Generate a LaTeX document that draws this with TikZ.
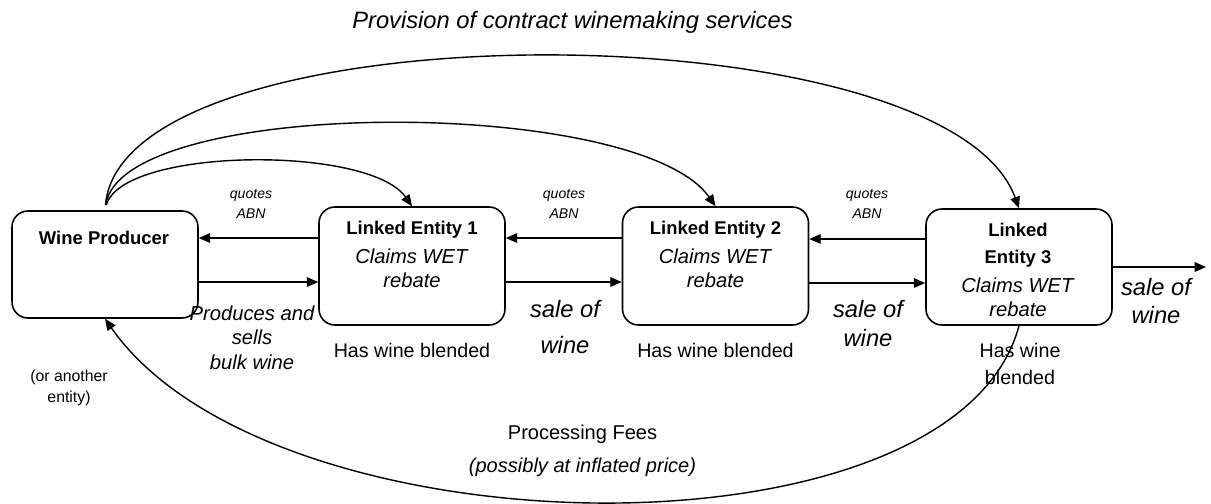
\documentclass[tikz,border=0pt]{standalone}
\usepackage{fontspec}
\setmainfont{Liberation Sans}
\usetikzlibrary{arrows.meta}

\newcommand{\fs}[2]{\fontsize{#1}{#2}\selectfont}

\begin{document}
\begin{tikzpicture}[
	box/.style={draw, line width=0.9pt, rounded corners=0.32cm, fill=white, minimum width=3.72cm, minimum height=2.36cm},
	flow/.style={line width=0.8pt, -{Triangle[length=6.5pt,width=5.5pt]}},
	txt/.style={align=center, inner sep=0pt}]
	\useasboundingbox (0,0) rectangle (24.22,10.06);
	% parties
	\node[box, minimum height=2.14cm] (WP) at (2.10,4.77) {};
	\node[box] (E1) at (8.24,4.74) {};
	\node[box] (E2) at (14.31,4.74) {};
	\node[box, minimum height=2.32cm] (E3) at (20.38,4.72) {};
	\node[txt, font=\fs{10.5}{12}\bfseries] (WPt) at (2.08,5.30) {Wine Producer};
	\node[txt, font=\fs{11.5}{13.7}] (E1t) at (8.24,4.97) {\textbf{\fs{10.5}{12}Linked Entity 1}\\[2.8pt]\textit{Claims WET}\\\textit{rebate}};
	\node[txt, font=\fs{11.5}{13.7}] (E2t) at (14.31,4.97) {\textbf{\fs{10.5}{12}Linked Entity 2}\\[2.8pt]\textit{Claims WET}\\\textit{rebate}};
	\node[txt, font=\fs{11.5}{13.7}] (E3t) at (20.36,4.66) {\textbf{\fs{10.5}{12}Linked}\\[1.7pt]\textbf{\fs{10.5}{12}Entity 3}\\[2.8pt]\textit{Claims WET}\\\textit{rebate}};
	% quotes ABN / sale of wine
	\foreach \a/\b in {WP/E1,E1/E2,E2/E3} {
		\draw[flow] ([yshift=0.56cm]\b.west) -- ([yshift=0.56cm]\b.west -| \a.east);
		\draw[flow] ([yshift=-0.32cm]\b.west -| \a.east) -- ([yshift=-0.32cm]\b.west);
	}
	\coordinate (buyer) at (24.12,4.72);
	\draw[flow] (E3) -- (buyer);
	\node[txt, font=\fs{8}{11.4}\itshape] (q1) at (5.02,5.98) {quotes\\ABN};
	\node[txt, font=\fs{8}{11.4}\itshape] (q2) at (11.28,5.98) {quotes\\ABN};
	\node[txt, font=\fs{8}{11.4}\itshape] (q3) at (17.34,5.98) {quotes\\ABN};
	\node[txt, font=\fs{11.5}{14}\itshape] (prod) at (5.04,3.31) {Produces and\\sells\\bulk wine};
	\node[txt, font=\fs{13.5}{20.5}\itshape] (s1) at (11.30,3.52) {sale of\\wine};
	\node[txt, font=\fs{13.5}{16.5}\itshape] (s2) at (17.36,3.59) {sale of\\wine};
	\node[txt, font=\fs{13.5}{16}\itshape] (s3) at (23.12,4.04) {sale of\\wine};
	\node[txt, font=\fs{11.2}{13}] (b1) at (8.24,3.06) {Has wine blended};
	\node[txt, font=\fs{11.2}{13}] (b2) at (14.31,3.06) {Has wine blended};
	\node[txt, font=\fs{11.2}{15.4}] (b3) at (20.40,2.79) {Has wine\\blended};
	\node[txt, font=\fs{9}{12}] (other) at (1.38,2.31) {(or another\\entity)};
	% contract winemaking
	\node[txt, font=\fs{13.5}{16}\itshape] (title) at (11.45,9.62) {Provision of contract winemaking services};
	\draw[flow, shorten <=3pt] (WP.north) .. controls +(75:1.3) and +(125:1.5) .. (E1.north);
	\draw[flow, shorten <=3pt] (WP.north) .. controls +(82:2.3) and +(125:2.7) .. (E2.north);
	\draw[flow, shorten <=3pt] (WP.north) .. controls +(85:4.1) and +(110:4.3) .. (E3.north);
	% fees back
	\draw[flow] (E3.south) .. controls +(-105:5.0) and +(-55:5.8) .. (WP.south);
	\node[txt, font=\fs{11.4}{12}] (fees) at (11.65,1.05) {Processing Fees\\[6.8pt]\textit{(possibly at inflated price)}};
\end{tikzpicture}
\end{document}
